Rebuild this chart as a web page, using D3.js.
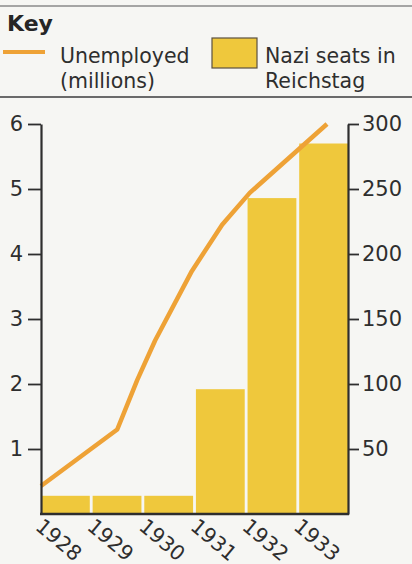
<!DOCTYPE html>
<html><head><meta charset="utf-8">
<script src="https://cdn.jsdelivr.net/npm/d3@7"></script>
<style>
html,body{margin:0;padding:0;background:#f6f6f3;}
svg{display:block;}
text{font-family:"DejaVu Sans",sans-serif;fill:#2e2e2e;}
</style></head><body>
<svg id="c" width="412" height="564"></svg>
<script>
const years = ["1928","1929","1930","1931","1932","1933"];
const naziSeats = [14, 14, 14, 96, 243, 285];
// unemployment line, points (fractional year, millions)
const unempYear = [1928.0, 1929.49, 1929.88, 1930.23, 1930.95, 1931.54, 1932.08, 1933.59];
const unempMillions = [0.43, 1.30, 2.06, 2.67, 3.74, 4.45, 4.94, 6.0];
const leftTicks = [1,2,3,4,5,6];
const rightTicks = [50,100,150,200,250,300];

const svg = d3.select("#c");
const W = 412, H = 564;
const x0 = 41, x1 = 348, yTop = 124, yBot = 514;
const ink = "#2e2e2e";

// Key box
svg.append("line").attr("x1",0).attr("x2",W).attr("y1",6).attr("y2",6).attr("stroke","#8a8a8a").attr("stroke-width",1.5);
svg.append("line").attr("x1",0).attr("x2",W).attr("y1",97).attr("y2",97).attr("stroke","#6a6a6a").attr("stroke-width",2);
svg.append("text").attr("x",7).attr("y",31).attr("font-size",22).attr("font-weight","bold").style("fill","#262626").text("Key");
svg.append("line").attr("x1",3).attr("x2",45).attr("y1",52).attr("y2",52).attr("stroke","#eea236").attr("stroke-width",4);
svg.append("text").attr("x",60).attr("y",63).attr("font-size",20.5).text("Unemployed");
svg.append("text").attr("x",60).attr("y",88).attr("font-size",20.5).text("(millions)");
svg.append("rect").attr("x",212).attr("y",38).attr("width",45).attr("height",30).attr("fill","#efc83c").attr("stroke","#5a5040").attr("stroke-width",1.2);
svg.append("text").attr("x",265).attr("y",63).attr("font-size",20.5).text("Nazi seats in");
svg.append("text").attr("x",265).attr("y",88).attr("font-size",20.5).text("Reichstag");

// scales
const xb = d3.scaleBand().domain(years).range([x0, x1]).paddingInner(0.055).paddingOuter(0);
const xl = d3.scaleLinear().domain([1928, 1934]).range([x0, x1]);
const yL = d3.scaleLinear().domain([0, 6]).range([yBot, yTop]);
const yR = d3.scaleLinear().domain([0, 300]).range([yBot, yTop]);

// bars
svg.append("g").selectAll("rect").data(years).join("rect")
  .attr("x", d => xb(d))
  .attr("width", xb.bandwidth())
  .attr("y", (d,i) => yR(naziSeats[i]))
  .attr("height", (d,i) => yR(0) - yR(naziSeats[i]))
  .attr("fill", "#efc83c");

// line
const pts = unempYear.map((y,i) => [xl(y), yL(unempMillions[i])]);
svg.append("path").attr("d", d3.line()(pts))
  .attr("fill","none").attr("stroke","#eea236").attr("stroke-width",4.5)
  .attr("stroke-linejoin","round").attr("stroke-linecap","butt");

// axes
const fs = 21;
const axL = d3.axisLeft(yL).tickValues(leftTicks).tickFormat(d3.format("d")).tickSize(13).tickPadding(5).tickSizeOuter(0);
const gL = svg.append("g").attr("transform",`translate(${x0},0)`).call(axL);
const axR = d3.axisRight(yR).tickValues(rightTicks).tickFormat(d3.format("d")).tickSize(11).tickPadding(3).tickSizeOuter(0);
const gR = svg.append("g").attr("transform",`translate(${x1},0)`).call(axR);
[gL,gR].forEach(g => {
  g.select(".domain").attr("stroke",ink).attr("stroke-width",2.2);
  g.selectAll(".tick line").attr("stroke",ink).attr("stroke-width",1.8);
  g.selectAll(".tick text").attr("font-size",fs).style("font-family","'DejaVu Sans',sans-serif").style("fill",ink);
});

// bottom axis line
svg.append("line").attr("x1",x0-1).attr("x2",x1+1).attr("y1",yBot).attr("y2",yBot).attr("stroke",ink).attr("stroke-width",2.5);

// x labels rotated
svg.append("g").selectAll("text").data(years).join("text")
  .attr("transform", d => `translate(${xb(d)+3},${yBot+3}) rotate(40)`)
  .attr("x",0).attr("y",15).attr("font-size",20.5).text(d => d);
</script>
</body></html>
